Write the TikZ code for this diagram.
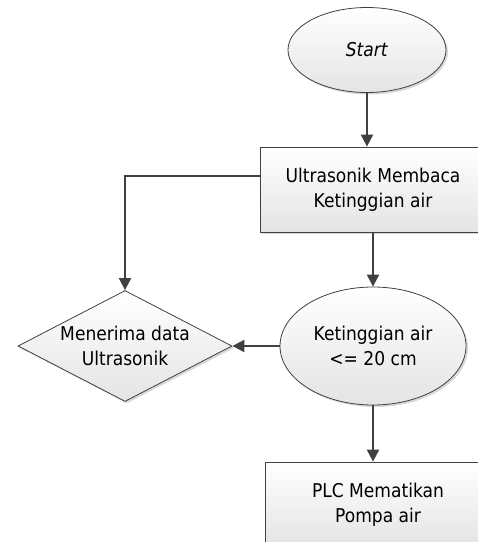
\documentclass[tikz,border=0pt]{standalone}
\usepackage{fontspec}
\setmainfont{DejaVu Sans}[FakeStretch=0.9]
\usepackage{tikz}
\usetikzlibrary{shapes.geometric, arrows.meta, shadows}
\definecolor{linegray}{RGB}{64,64,64}
\definecolor{fillgray}{RGB}{228,228,228}
\tikzset{
    shaded/.style={draw=linegray, line width=0.8pt, top color=white, bottom color=fillgray, drop shadow={shadow xshift=2pt, shadow yshift=-2pt, fill=black!30, opacity=0.5}},
    box/.style={rectangle, minimum width=226pt, minimum height=85pt, text centered, align=center, shaded},
    terminal/.style={ellipse, minimum width=158pt, minimum height=85pt, inner sep=0pt, text centered, align=center, shaded},
    decision/.style={ellipse, minimum width=186pt, minimum height=118pt, inner sep=0pt, text centered, align=center, shaded},
    input/.style={diamond, aspect=1.93, minimum width=214pt, minimum height=111pt, inner sep=0pt, text centered, align=center, shaded},
    flow/.style={-{Triangle[length=12pt, width=12pt]}, line width=2pt, color=linegray}
}

\begin{document}
\begin{tikzpicture}[x=1pt, y=-1pt, font=\fontsize{19}{25}\selectfont]
    \useasboundingbox (0,0) rectangle (478,542);
    \clip (0,0) rectangle (478,542);
    % Flowchart nodes
    \node[terminal] (start) at (367,50) {\textit{Start}};
    \node[box] (read_sensor) at (373,189.5) {Ultrasonik Membaca\\Ketinggian air};
    \node[decision] (check_level) at (373,346) {Ketinggian air\\<= 20 cm};
    \node[input] (receive_data) at (125,346) {Menerima data\\Ultrasonik};
    \node[box] (pump_off) at (378,504.5) {PLC Mematikan\\Pompa air};

    % Flows
    \draw[flow] (start.south) -- (start.south |- read_sensor.north);
    \draw[flow] ([yshift=13.5pt]read_sensor.west) -| (receive_data.north);
    \draw[flow] (read_sensor.south) -- (check_level.north);
    \draw[flow] (check_level.west) -- (receive_data.east);
    \draw[flow] (check_level.south) -- (check_level.south |- pump_off.north);
\end{tikzpicture}
\end{document}
